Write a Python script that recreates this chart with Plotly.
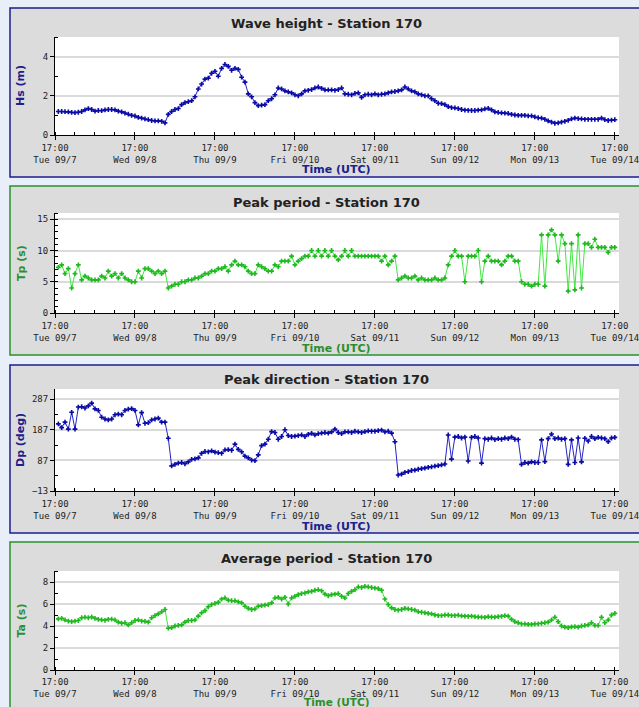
import pandas as pd
import plotly.graph_objects as go

# ---------------------------------------------------------------------------
# Station 170 buoy record, hourly samples from 09/07 18:00 UTC
# ---------------------------------------------------------------------------
START = "2010-09-07 17:00"

hs_m = [
    1.2, 1.2, 1.19, 1.18, 1.15, 1.14, 1.16, 1.2, 1.28, 1.35,
    1.3, 1.22, 1.25, 1.24, 1.28, 1.3, 1.3, 1.28, 1.22, 1.18,
    1.12, 1.06, 1.0, 0.97, 0.9, 0.86, 0.82, 0.78, 0.74, 0.72,
    0.72, 0.7, 0.62, 1.05, 1.2, 1.3, 1.35, 1.55, 1.65, 1.7,
    1.75, 1.95, 2.35, 2.6, 2.85, 2.9, 3.15, 3.25, 3.0, 3.4,
    3.6, 3.5, 3.3, 3.4, 3.35, 2.95, 2.7, 2.1, 1.95, 1.65,
    1.5, 1.52, 1.55, 1.75, 1.85, 2.05, 2.4, 2.35, 2.25, 2.2,
    2.15, 2.05, 2.0, 2.1, 2.25, 2.28, 2.32, 2.4, 2.45, 2.38,
    2.3, 2.3, 2.3, 2.28, 2.32, 2.4, 2.1, 2.08, 2.05, 2.12,
    2.15, 1.92, 2.05, 2.08, 2.05, 2.1, 2.05, 2.08, 2.1, 2.15,
    2.2, 2.22, 2.25, 2.3, 2.45, 2.35, 2.25, 2.2, 2.1, 2.05,
    2.0, 2.0, 1.85, 1.75, 1.62, 1.6, 1.55, 1.45, 1.4, 1.38,
    1.35, 1.3, 1.27, 1.26, 1.25, 1.25, 1.27, 1.28, 1.33, 1.36,
    1.28, 1.18, 1.15, 1.13, 1.12, 1.1, 1.05, 1.02, 1.0, 1.0,
    1.0, 0.98, 0.98, 0.92, 0.88, 0.86, 0.8, 0.72, 0.66, 0.6,
    0.62, 0.66, 0.7, 0.75, 0.82, 0.86, 0.84, 0.82, 0.8, 0.8,
    0.8, 0.8, 0.8, 0.86, 0.78, 0.74, 0.76, 0.78,
]

tp_s = [
    7.3, 7.7, 6.3, 7.1, 4.0, 6.3, 7.7, 5.3, 5.9, 5.6,
    5.3, 5.3, 5.3, 5.9, 5.6, 6.7, 5.9, 6.3, 5.6, 6.3,
    5.6, 5.3, 5.0, 5.0, 6.7, 5.6, 7.1, 7.1, 6.7, 6.3,
    6.7, 6.3, 6.7, 4.0, 4.3, 4.6, 4.6, 5.0, 5.0, 5.3,
    5.3, 5.6, 5.6, 5.9, 6.3, 6.3, 6.7, 6.7, 7.1, 7.1,
    7.4, 6.7, 7.7, 8.3, 7.7, 7.7, 7.4, 6.7, 6.3, 6.3,
    7.7, 7.4, 7.1, 6.7, 6.7, 7.7, 7.4, 8.3, 8.3, 8.3,
    9.1, 7.7, 8.3, 8.7, 9.1, 9.1, 10.0, 9.1, 10.0, 9.1,
    10.0, 9.1, 10.0, 9.1, 8.5, 9.1, 10.0, 9.1, 10.0, 9.1,
    9.1, 9.1, 9.1, 9.1, 9.1, 9.1, 9.1, 8.3, 9.1, 7.7,
    8.3, 9.1, 5.3, 5.6, 5.9, 5.6, 5.6, 5.9, 5.3, 5.6,
    5.3, 5.3, 5.3, 5.6, 5.3, 5.3, 5.6, 7.7, 9.1, 10.0,
    9.1, 9.1, 5.0, 9.1, 9.1, 9.1, 10.0, 5.0, 8.3, 9.1,
    8.3, 8.3, 8.3, 7.7, 8.3, 9.1, 9.1, 8.3, 8.3, 5.0,
    4.6, 4.6, 4.3, 4.6, 4.6, 12.5, 4.3, 12.5, 13.3, 12.5,
    8.3, 12.5, 11.1, 3.5, 11.1, 3.7, 12.5, 4.0, 11.1, 11.1,
    10.5, 11.8, 10.5, 10.5, 10.5, 9.7, 10.5, 10.5,
]

dp_deg = [
    206, 194, 212, 189, 244, 189, 261, 262, 258, 265,
    274, 255, 250, 228, 222, 219, 222, 236, 238, 236,
    250, 254, 256, 250, 203, 243, 208, 210, 219, 222,
    225, 212, 212, 159, 69, 74, 78, 80, 76, 82,
    90, 92, 95, 110, 116, 115, 118, 114, 112, 110,
    121, 122, 120, 140, 123, 115, 101, 95, 88, 86,
    105, 135, 140, 156, 181, 178, 156, 165, 187, 168,
    165, 166, 168, 170, 165, 172, 175, 170, 174, 176,
    178, 176, 180, 189, 178, 174, 180, 180, 178, 182,
    180, 178, 181, 183, 182, 182, 184, 186, 180, 182,
    176, 148, 39, 42, 48, 50, 54, 55, 58, 60,
    62, 64, 66, 68, 70, 72, 75, 170, 91, 163,
    165, 160, 163, 85, 162, 165, 160, 78, 158, 156,
    160, 155, 158, 156, 160, 158, 163, 156, 155, 74,
    80, 78, 82, 80, 80, 154, 83, 158, 173, 158,
    160, 156, 158, 74, 154, 80, 160, 82, 159, 150,
    165, 158, 162, 160, 158, 148, 160, 162,
]

ta_s = [
    4.65, 4.7, 4.55, 4.45, 4.4, 4.45, 4.5, 4.75, 4.8, 4.75,
    4.82, 4.7, 4.6, 4.55, 4.52, 4.6, 4.62, 4.55, 4.35, 4.25,
    4.3, 4.1, 4.3, 4.5, 4.55, 4.45, 4.42, 4.35, 4.75, 4.95,
    5.1, 5.3, 5.5, 3.8, 3.85, 4.0, 4.05, 4.1, 4.35, 4.5,
    4.5, 4.55, 4.9, 5.2, 5.4, 5.75, 5.95, 6.05, 6.15, 6.45,
    6.55, 6.35, 6.3, 6.3, 6.2, 6.1, 5.8, 5.6, 5.5, 5.55,
    5.8, 5.85, 5.9, 5.95, 6.1, 6.55, 6.6, 6.45, 6.6, 6.0,
    6.55, 6.7, 6.85, 6.95, 7.0, 7.1, 7.15, 7.25, 7.3, 7.2,
    6.9, 6.75, 6.85, 6.9, 6.95, 6.7, 6.55, 6.95, 7.15, 7.3,
    7.55, 7.5, 7.6, 7.55, 7.5, 7.45, 7.4, 7.25, 6.45, 5.95,
    5.65, 5.5, 5.45, 5.5, 5.6, 5.55, 5.5, 5.45, 5.3, 5.25,
    5.2, 5.15, 5.1, 5.0, 4.95, 4.95, 5.0, 5.0, 4.95, 4.95,
    4.98, 4.92, 4.9, 4.88, 4.9, 4.85, 4.82, 4.8, 4.78, 4.85,
    4.82, 4.8, 4.85, 4.88, 4.95, 4.9, 4.6, 4.4, 4.3, 4.2,
    4.2, 4.15, 4.15, 4.2, 4.2, 4.25, 4.3, 4.35, 4.55, 4.8,
    4.4, 4.0, 3.9, 3.85, 3.92, 3.95, 3.9, 4.0, 4.05, 4.1,
    4.3, 4.05, 4.05, 4.8, 4.3, 4.55, 5.0, 5.15,
]

day_labels = ["Tue 09/7", "Wed 09/8", "Thu 09/9", "Fri 09/10",
              "Sat 09/11", "Sun 09/12", "Mon 09/13", "Tue 09/14"]

panel_titles = ["Wave height - Station 170", "Peak period - Station 170",
                "Peak direction - Station 170", "Average period - Station 170"]
y_titles = ["Hs (m)", "Tp (s)", "Dp (deg)", "Ta (s)"]

y_ticks = [[0, 2, 4], [0, 5, 10, 15], [-13, 87, 187, 287], [0, 2, 4, 6, 8]]
y_minor = [[1, 3, 5], list(range(1, 17)), [37, 137, 237], [1, 3, 5, 7, 9]]
y_ranges = [[0, 5], [0, 16], [-13, 320], [0, 9]]

# ---------------------------------------------------------------------------
# Time axis
# ---------------------------------------------------------------------------
times = pd.date_range(start="2010-09-07 18:00", periods=len(hs_m), freq="h")
major_ticks = pd.date_range(start=START, periods=8, freq="D")
minor_ticks = pd.date_range(start=START, end="2010-09-14 17:00", freq="6h")
tick_text = [f"17:00<br>{d}" for d in day_labels]
x_range = [pd.Timestamp(START), pd.Timestamp("2010-09-14 18:15")]

# ---------------------------------------------------------------------------
# Page geometry (pixels)
# ---------------------------------------------------------------------------
W, H = 639, 707


def fx(x):
    return x / W


def fy(y):
    return 1 - y / H


PLOT_X = (55, 619)
plot_rows = [(37, 135), (213, 313), (389, 491), (571, 670)]
panel_rows = [(8, 177), (186, 355), (365, 533), (542, 720)]
title_y = [23, 202, 379, 558]
xtitle_y = [170, 348, 526, 702]
xtitle_size = [11, 11, 11, 10.5]
label_standoff = [0, 0, 0, -1]

NAVY = "#20208c"
GREEN = "#2e8e2e"
styles = [
    dict(border="#1c1c8c", text=NAVY, line="#2424c8", marker="#0a0aa6"),
    dict(border="#2a922a", text=GREEN, line="#40e840", marker="#1fb81f"),
    dict(border="#1c1c8c", text=NAVY, line="#2424c8", marker="#0a0aa6"),
    dict(border="#2a922a", text=GREEN, line="#40e840", marker="#1fb81f"),
]
series = [hs_m, tp_s, dp_deg, ta_s]

TICK_FONT = dict(family="DejaVu Sans Mono", size=9, color="#222222")

fig = go.Figure()
shapes = []
annotations = []
layout = {}

for i, (vals, st) in enumerate(zip(series, styles)):
    n = i + 1
    xa = "x" if n == 1 else f"x{n}"
    ya = "y" if n == 1 else f"y{n}"
    fig.add_trace(go.Scatter(
        x=times, y=vals, xaxis=xa, yaxis=ya, mode="lines+markers",
        line=dict(color=st["line"], width=1),
        marker=dict(symbol="cross", size=4, color=st["marker"]),
        hoverinfo="x+y", showlegend=False,
    ))

    top, bot = plot_rows[i]
    ptop, pbot = panel_rows[i]

    # Grey panel box with coloured frame, and white plotting area
    shapes.append(dict(type="rect", xref="paper", yref="paper",
                       x0=fx(10), x1=fx(660), y0=fy(pbot), y1=fy(ptop),
                       fillcolor="#dcdcdc", line=dict(color=st["border"], width=1.5),
                       layer="below"))
    shapes.append(dict(type="rect", xref="paper", yref="paper",
                       x0=fx(PLOT_X[0]), x1=fx(PLOT_X[1]), y0=fy(bot), y1=fy(top),
                       fillcolor="white", line=dict(width=0), layer="below"))

    layout["xaxis" if n == 1 else f"xaxis{n}"] = dict(
        domain=[fx(PLOT_X[0]), fx(PLOT_X[1])], anchor=ya, type="date",
        range=x_range, tickmode="array", tickvals=major_ticks, ticktext=tick_text,
        ticks="outside", ticklen=4, tickcolor="black", tickwidth=1,
        showline=True, linecolor="black", linewidth=1, showgrid=False,
        zeroline=False, tickfont=TICK_FONT, tickangle=0,
        ticklabelstandoff=label_standoff[i],
        automargin=False, ticklabeloverflow="allow",
        minor=dict(tickmode="array", tickvals=minor_ticks, ticks="inside",
                   ticklen=3, tickcolor="black", tickwidth=1, showgrid=False),
        fixedrange=True,
    )
    layout["yaxis" if n == 1 else f"yaxis{n}"] = dict(
        domain=[fy(bot), fy(top)], anchor=xa, range=y_ranges[i],
        tickmode="array", tickvals=y_ticks[i],
        ticks="outside", ticklen=4, tickcolor="black", tickwidth=1,
        showline=True, linecolor="black", linewidth=1,
        showgrid=True, gridcolor="#dadada", gridwidth=1.5, zeroline=False,
        tickfont=TICK_FONT, automargin=False, ticklabeloverflow="allow",
        minor=dict(tickmode="array", tickvals=y_minor[i], ticks="inside",
                   ticklen=3, tickcolor="black", tickwidth=1, showgrid=False),
        fixedrange=True,
    )

    annotations.append(dict(xref="paper", yref="paper", x=fx(326), y=fy(title_y[i]),
                            text=f"<b>{panel_titles[i]}</b>", showarrow=False,
                            xanchor="center", yanchor="middle",
                            font=dict(family="DejaVu Sans", size=13, color="#222222")))
    annotations.append(dict(xref="paper", yref="paper", x=fx(21), y=fy((top + bot) / 2),
                            text=f"<b>{y_titles[i]}</b>", showarrow=False, textangle=-90,
                            xanchor="center", yanchor="middle",
                            font=dict(family="DejaVu Sans", size=11, color=st["text"])))
    annotations.append(dict(xref="paper", yref="paper", x=fx(337), y=fy(xtitle_y[i]),
                            text="<b>Time (UTC)</b>", showarrow=False,
                            xanchor="center", yanchor="middle",
                            font=dict(family="DejaVu Sans", size=xtitle_size[i],
                                      color=st["text"])))

fig.update_layout(
    width=W, height=H, margin=dict(l=0, r=0, t=0, b=0),
    paper_bgcolor="#e9eff9", plot_bgcolor="rgba(0,0,0,0)",
    shapes=shapes, annotations=annotations, showlegend=False,
    **layout,
)

fig.write_html("out.html", config={"displayModeBar": False})
